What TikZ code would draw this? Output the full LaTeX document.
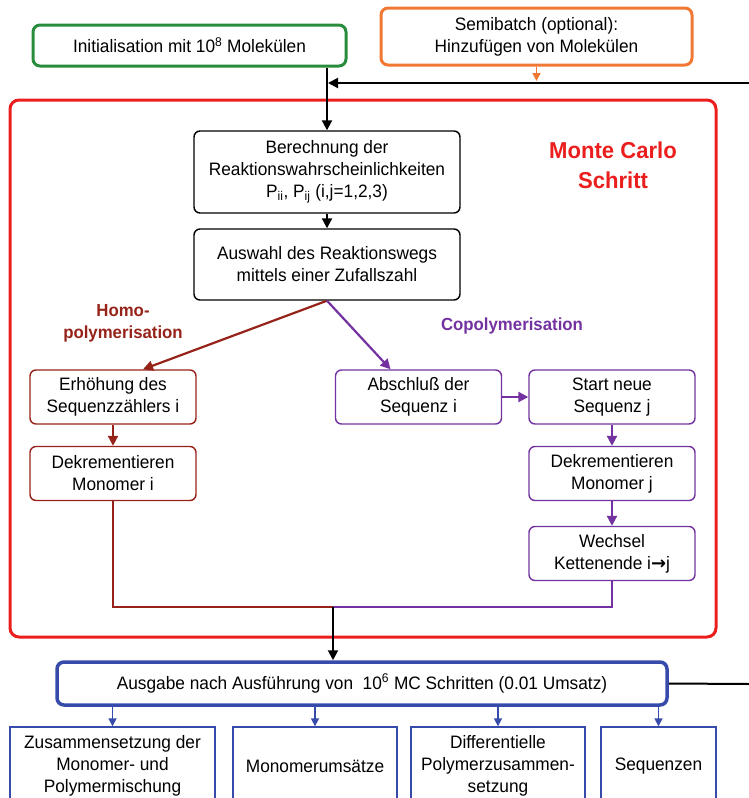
\documentclass[tikz,border=0pt]{standalone}
\usepackage{fontspec}
\setmainfont{Liberation Sans}[FakeStretch=0.96]
\newfontfamily\symfont{DejaVu Sans}
\usetikzlibrary{arrows.meta,calc}

\definecolor{cgreen}{RGB}{40,140,60}
\definecolor{corange}{RGB}{240,120,50}
\definecolor{cred}{RGB}{235,30,30}
\definecolor{cbrown}{RGB}{150,35,25}
\definecolor{cpurple}{RGB}{115,50,160}
\definecolor{cblue}{RGB}{55,75,170}

\tikzset{
  txt/.style={font=\fontsize{18}{22}\selectfont, align=center, inner sep=0pt},
  topbox/.style={txt, draw, line width=3pt, rounded corners=7pt},
  stepbox/.style={txt, draw=black, line width=1.4pt, rounded corners=6pt},
  homobox/.style={txt, draw=cbrown, line width=1.4pt, rounded corners=6pt,
                  minimum width=166pt, minimum height=54pt},
  copobox/.style={txt, draw=cpurple, line width=1.4pt, rounded corners=6pt,
                  minimum width=166pt, minimum height=54pt},
  outbox/.style={txt, draw=cblue, line width=1.4pt, minimum height=78pt},
  tip/.style={-{Triangle[length=10pt,width=10pt]}},
  smalltip/.style={-{Triangle[length=8pt,width=8pt]}},
  blk/.style={draw=black, line width=2pt},
}

\begin{document}
\begin{tikzpicture}[x=1pt,y=-1pt]
\clip (0,0) rectangle (749,798);
\useasboundingbox (0,0) rectangle (749,798);

% input boxes
\node[topbox, draw=cgreen, minimum width=313pt, minimum height=41pt] (init) at (189.5,45.5)
  {Initialisation mit 10\textsuperscript{8} Molekülen};
\node[topbox, draw=corange, minimum width=311pt, minimum height=57pt] (semi) at (536.5,36.5)
  {Semibatch (optional):\\Hinzufügen von Molekülen};

% Monte Carlo frame
\node[draw=cred, line width=3pt, rounded corners=9pt, minimum width=706pt, minimum height=537pt,
      inner sep=0pt] (mc) at (363,368.5) {};
\node[font=\fontsize{23}{30}\selectfont\bfseries, text=cred, align=center] (mclabel) at (613,165)
  {Monte Carlo\\Schritt};

% Monte Carlo step boxes
\node[stepbox, minimum width=266pt, minimum height=82pt] (ber) at (327,172)
  {Berechnung der\\Reaktionswahrscheinlichkeiten\\P\textsubscript{ii}, P\textsubscript{ij} (i,j=1,2,3)};
\node[stepbox, minimum width=266pt, minimum height=71pt] (aus) at (327,264.5)
  {Auswahl des Reaktionswegs\\mittels einer Zufallszahl};

\node[font=\fontsize{17.5}{22}\selectfont\bfseries, text=cbrown, align=center] (homo) at (123,323)
  {Homo-\\polymerisation};
\node[font=\fontsize{17.5}{22}\selectfont\bfseries, text=cpurple] (copo) at (512,326)
  {Copolymerisation};

\node[homobox] (erh) at (113,397) {Erhöhung des\\Sequenzzählers i};
\node[homobox] (dek1) at (113,473.5) {Dekrementieren\\Monomer i};

\node[copobox] (absch) at (418.5,397) {Abschluß der\\Sequenz i};
\node[copobox] (start) at (612,397) {Start neue\\Sequenz j};
\node[copobox] (dek2) at (612,473.5) {Dekrementieren\\Monomer j};
\node[copobox] (wech) at (612,553.5) {Wechsel\\Kettenende i{\symfont\bfseries →}j};

% output
\node[topbox, draw=cblue, line width=3.5pt, minimum width=610pt, minimum height=43pt] (ausg) at (362,683.5)
  {Ausgabe nach Ausführung von\ \ 10\textsuperscript{6} MC Schritten (0.01 Umsatz)};

\node[outbox, minimum width=205pt] (z1) at (112.5,766) {Zusammensetzung der\\Monomer- und\\Polymermischung};
\node[outbox, minimum width=164pt] (z2) at (315,766) {Monomerumsätze};
\node[outbox, minimum width=174pt] (z3) at (498,766) {Differentielle\\Polymerzusammen-\\setzung};
\node[outbox, minimum width=115pt] (z4) at (658.5,766) {Sequenzen};

% loop ends and junction
\coordinate (loopin) at (749,83);
\coordinate (loopout) at (749,684);
\coordinate (join) at (333,607);

% connectors
\draw[blk, tip] (ber.north |- init.south) -- (ber.north);
\draw[blk, tip] (loopin) -- ($(loopin -| ber.north)+(1,0)$);
\draw[corange, line width=1.8pt, smalltip] (semi.south) -- ($(semi.south |- loopin)+(0,-2)$);
\draw[blk, tip] (ber) -- (aus);

\draw[cbrown, line width=2.2pt, tip] (aus.south) -- ([xshift=30pt]erh.north);
\draw[cpurple, line width=2.2pt, tip] (aus.south) -- ([xshift=-28pt]absch.north);

\draw[cbrown, line width=2.2pt, tip] (erh) -- (dek1);
\draw[cpurple, line width=2.2pt, tip] (absch) -- (start);
\draw[cpurple, line width=2.2pt, tip] (start) -- (dek2);
\draw[cpurple, line width=2.2pt, tip] (dek2) -- (wech);

\draw[cbrown, line width=2.2pt] (dek1.south) |- (join);
\draw[cpurple, line width=2.2pt] (wech.south) |- (join);
\draw[blk, tip] (join) -- (join |- ausg.north);

\draw[blk] (ausg.east) -- (loopout);

\foreach \b in {z1,z2,z3,z4}
  \draw[cblue, line width=1.6pt, smalltip] (\b.north |- ausg.south) -- (\b.north);
\end{tikzpicture}
\end{document}
